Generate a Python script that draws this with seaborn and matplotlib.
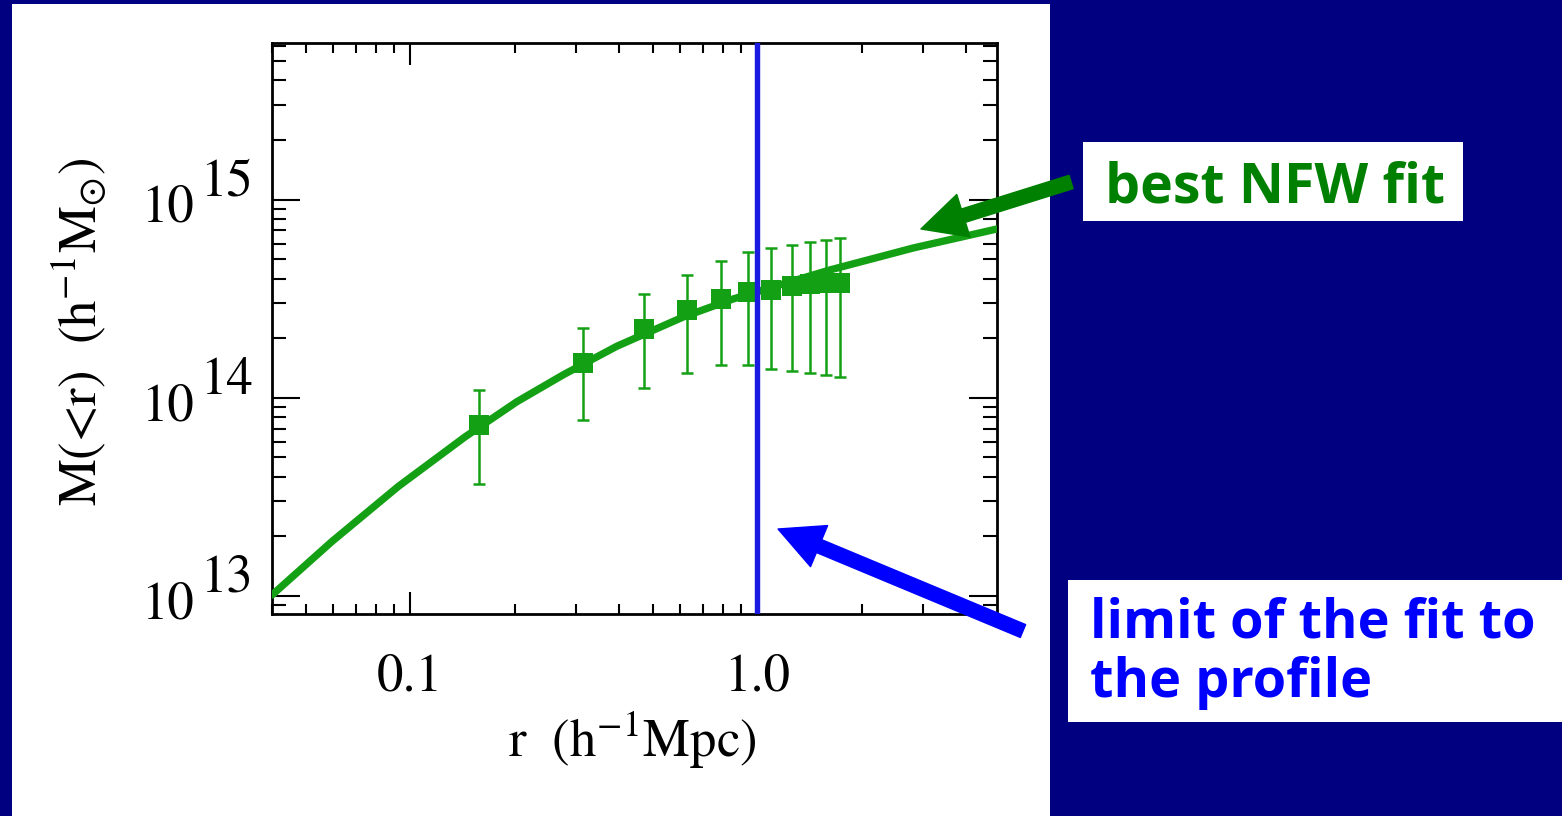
import numpy as np
import matplotlib
matplotlib.use('Agg')
import matplotlib.pyplot as plt
import matplotlib.patches as mpatches
import matplotlib.transforms as mtransforms
from matplotlib.ticker import NullFormatter
import seaborn as sns
import pandas as pd

# measured profile: radius (h^-1 Mpc), enclosed mass (h^-1 Msun) and error range
r_data = [0.158, 0.315, 0.473, 0.629, 0.785, 0.944, 1.10, 1.26, 1.42, 1.58, 1.73]
m_data = [7.31e13, 1.50e14, 2.22e14, 2.78e14, 3.16e14, 3.41e14,
          3.51e14, 3.68e14, 3.77e14, 3.80e14, 3.80e14]
m_low = [3.66e13, 7.71e13, 1.12e14, 1.34e14, 1.46e14, 1.46e14,
         1.40e14, 1.37e14, 1.34e14, 1.30e14, 1.27e14]
m_high = [1.10e14, 2.26e14, 3.35e14, 4.18e14, 4.92e14, 5.42e14,
          5.71e14, 5.94e14, 6.15e14, 6.28e14, 6.40e14]

# best NFW fit
r_fit = [0.0400, 0.0595, 0.0925, 0.144, 0.203, 0.277, 0.394,
         0.613, 0.855, 1.19, 1.62, 2.82, 4.93]
m_fit = [1.01e13, 1.88e13, 3.57e13, 6.35e13, 9.55e13, 1.31e14, 1.82e14,
         2.56e14, 3.16e14, 3.76e14, 4.42e14, 5.71e14, 7.13e14]

# limit of the fit
r_limit = 1.0

x_ticks = [0.1, 1.0]
x_ticklabels = ['0.1', '1.0']
y_ticks = [1e13, 1e14, 1e15]
y_exponents = ['13', '14', '15']

green = '#14a014'
navy = '#000080'

sns.set_theme(style='ticks')
plt.rcParams['font.family'] = 'STIXGeneral'
plt.rcParams['mathtext.fontset'] = 'stix'

fig = plt.figure(figsize=(15.62, 8.16), dpi=100, facecolor=navy)

# white panel behind the plot
fig.add_artist(mpatches.Rectangle((0.00768, 0), 0.6645, 0.9951, transform=fig.transFigure,
                                  facecolor='white', edgecolor='none', zorder=-5))

ax = fig.add_axes([0.1741, 0.2475, 0.4645, 0.6992])
ax.set_facecolor('white')
ax.set_xscale('log')
ax.set_yscale('log')

sns.lineplot(x=r_fit, y=m_fit, ax=ax, color=green, lw=5.3, estimator=None, sort=False, zorder=3)
ax.errorbar(r_data, m_data,
            yerr=[np.subtract(m_data, m_low), np.subtract(m_high, m_data)],
            fmt='none', ecolor=green, elinewidth=1.8, capsize=4, capthick=1.8, zorder=2)
sns.scatterplot(x=r_data, y=m_data, ax=ax, marker='s', s=205, color=green,
                edgecolor='none', legend=False, zorder=4)
ax.axvline(r_limit, color='#1a1ae0', lw=3.9, zorder=5)

ax.set_xlim(0.0400, 4.93)
ax.set_ylim(8.1e12, 6.15e15)

ax.set_xticks(x_ticks, labels=x_ticklabels)
ax.set_yticks(y_ticks, labels=['' for _ in y_ticks])
ax.xaxis.set_minor_formatter(NullFormatter())
ax.yaxis.set_minor_formatter(NullFormatter())

for sp in ax.spines.values():
    sp.set_linewidth(2)
    sp.set_color('black')

ax.tick_params(which='both', direction='in', top=True, right=True, width=1.5, color='black')
ax.tick_params(axis='y', which='major', length=20)
ax.tick_params(axis='y', which='minor', length=10)
ax.tick_params(axis='x', which='major', length=16, pad=28, labelsize=38, labelcolor='black')
ax.tick_params(axis='x', which='minor', length=7)

blend = mtransforms.blended_transform_factory(ax.transAxes, ax.transData)
for val, exp in zip(y_ticks, y_exponents):
    ax.annotate('10', xy=(0, val), xycoords=blend, xytext=(-75, -16), textcoords='offset points',
                ha='center', va='baseline', fontsize=38, color='black', annotation_clip=False)
    ax.annotate(exp, xy=(0, val), xycoords=blend, xytext=(-33, 3), textcoords='offset points',
                ha='center', va='baseline', fontsize=38, color='black', annotation_clip=False)

ax.set_xlabel(r'r  (h$^{-1}$Mpc)', fontsize=38, color='black')
ax.xaxis.set_label_coords(0.496, -0.168)
ax.set_ylabel(r'M(<r)  (h$^{-1}$M$_{\odot}$)', fontsize=38, color='black')
ax.yaxis.set_label_coords(-0.225, 0.494)

# annotation boxes
fig.add_artist(mpatches.Rectangle((0.6933, 0.7292), 0.2433, 0.0968, transform=fig.transFigure,
                                  facecolor='white', edgecolor='none', zorder=2))
fig.text(0.7074, 0.8039, 'best NFW fit', color='#008000', fontsize=40, fontweight='bold',
         family='Open Sans', ha='left', va='top', zorder=3)

fig.add_artist(mpatches.Rectangle((0.6837, 0.1152), 0.3163, 0.174, transform=fig.transFigure,
                                  facecolor='white', edgecolor='none', zorder=2))
fig.text(0.6978, 0.2684, 'limit of the fit to\nthe profile', color='#0000ff', fontsize=39,
         fontweight='bold', family='Open Sans', ha='left', va='top', linespacing=1.12, zorder=3)

# arrows
arrow_style = mpatches.ArrowStyle.Simple(head_length=32, head_width=32, tail_width=10)
fig.add_artist(mpatches.FancyArrowPatch((0.6857, 0.7770), (0.5896, 0.7194), transform=fig.transFigure,
                                        arrowstyle=arrow_style, mutation_scale=1, shrinkA=0, shrinkB=0,
                                        color='#008000', zorder=4))
fig.add_artist(mpatches.FancyArrowPatch((0.6549, 0.2267), (0.4981, 0.3517), transform=fig.transFigure,
                                        arrowstyle=arrow_style, mutation_scale=1, shrinkA=0, shrinkB=0,
                                        color='#0000ff', zorder=4))

fig.savefig('out.png', dpi=100, facecolor=navy)
